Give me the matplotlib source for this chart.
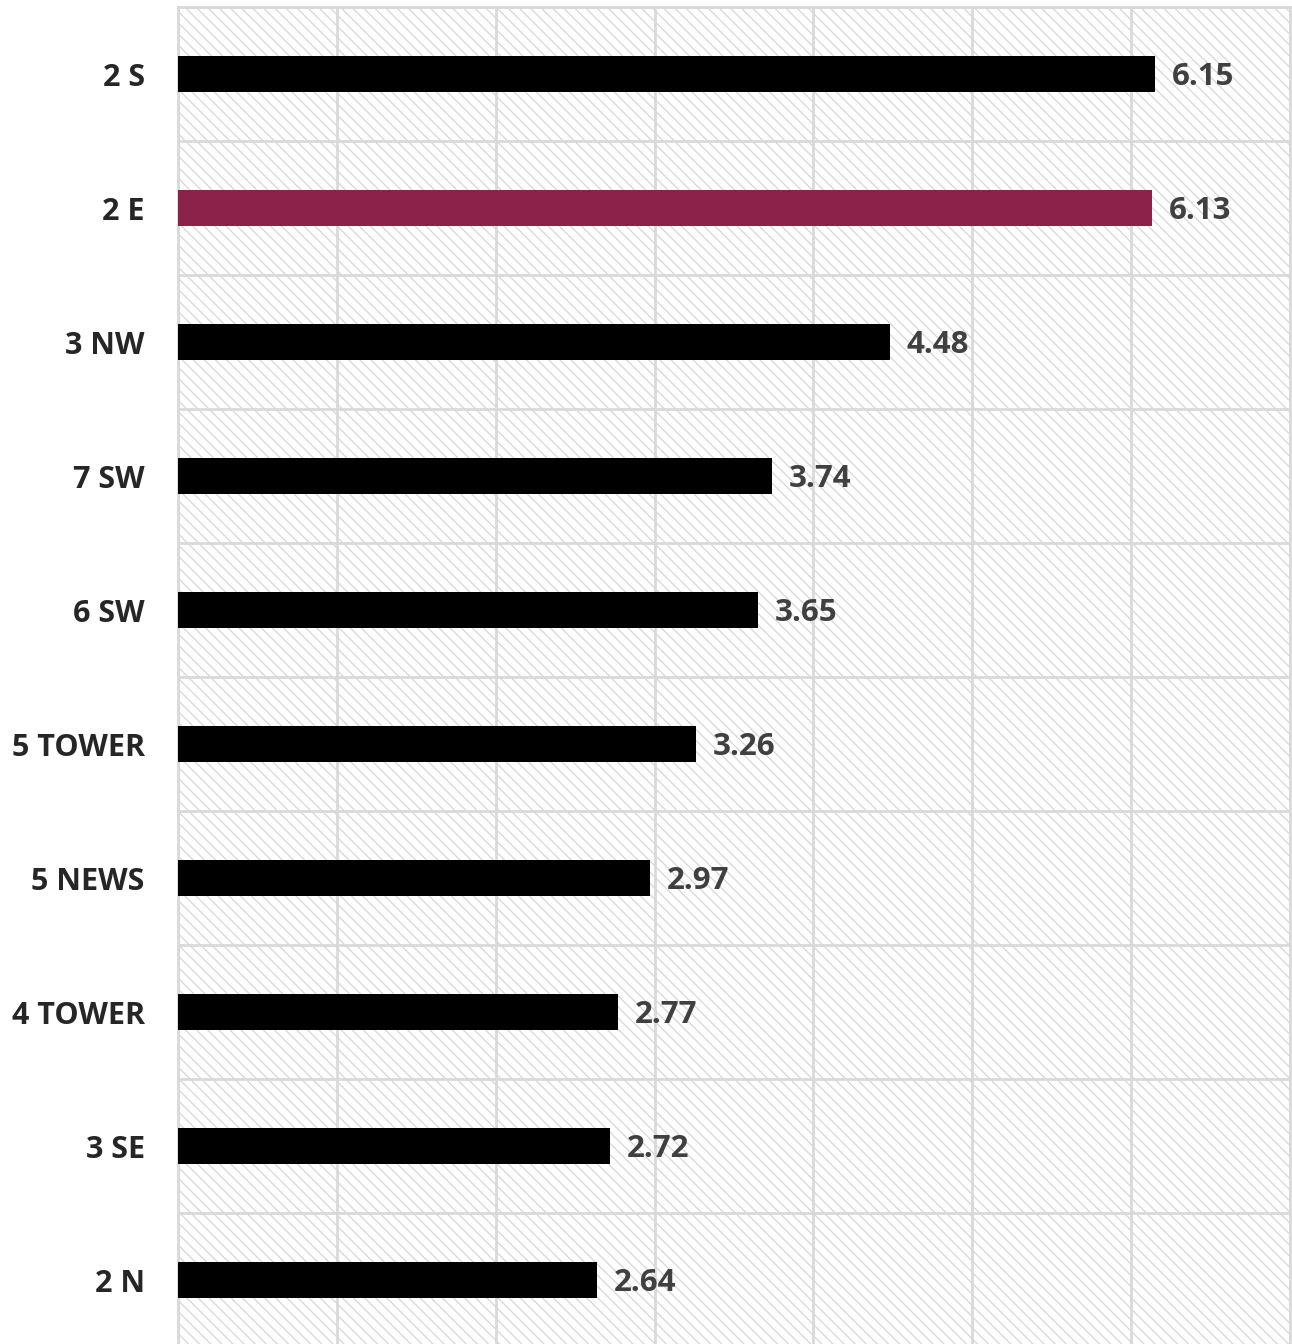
import matplotlib.pyplot as plt
import numpy as np

# data, top to bottom
categories = ['2 S', '2 E', '3 NW', '7 SW', '6 SW', '5 TOWER', '5 NEWS', '4 TOWER', '3 SE', '2 N']
values = [6.15, 6.13, 4.48, 3.74, 3.65, 3.26, 2.97, 2.77, 2.72, 2.64]
highlight = '2 E'

plt.rcParams['font.family'] = ['Open Sans', 'DejaVu Sans']
plt.rcParams['hatch.color'] = '#d6d6d6'
plt.rcParams['hatch.linewidth'] = 0.9

fig = plt.figure(figsize=(12.92, 13.44), dpi=100)
ax = fig.add_axes([178 / 1292, -3 / 1344, 1112 / 1292, 1340 / 1344])

# hatched plot area background
ax.patch.set_facecolor('white')
ax.patch.set_hatch('\\\\\\')
ax.patch.set_edgecolor('#d6d6d6')

y = np.arange(len(categories))
colors = ['#8b2249' if c == highlight else 'black' for c in categories]
bars = ax.barh(y, values, height=0.27, color=colors, zorder=3)

for b, v in zip(bars, values):
    ax.annotate(f'{v:.2f}', (b.get_width(), b.get_y() + b.get_height() / 2),
                xytext=(12, -2.5), textcoords='offset points', va='center', ha='left',
                fontsize=22.5, fontweight='bold', color='#404040')

ax.set_xlim(0, 7)
ax.set_ylim(len(categories) - 0.5, -0.5)
ax.set_xticks(np.arange(0, 8, 1))
ax.set_xticklabels([])
ax.set_yticks(y)
ax.set_yticklabels(categories, fontsize=22, fontweight='bold', color='#262626')
ax.set_yticks(np.arange(-0.5, len(categories), 1), minor=True)
ax.tick_params(axis='both', which='both', length=0)
ax.tick_params(axis='y', which='major', pad=24)

ax.grid(True, axis='x', which='major', color='#d9d9d9', linewidth=2, zorder=1)
ax.grid(True, axis='y', which='minor', color='#d9d9d9', linewidth=2, zorder=1)
ax.set_axisbelow(True)
for s in ax.spines.values():
    s.set_color('#d9d9d9')
    s.set_linewidth(2)

fig.savefig('out.png', dpi=100)
